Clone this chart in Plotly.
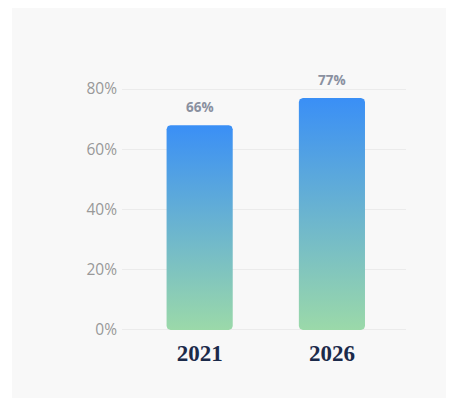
import numpy as np
import plotly.graph_objects as go

# ---- data ----
years = ["2021", "2026"]
values = [68, 77]           # bar heights as drawn (percent)
labels = ["66%", "77%"]     # printed value labels
y_ticks = [0, 20, 40, 60, 80]
y_tick_labels = ["0%", "20%", "40%", "60%", "80%"]

W, H = 458, 398
L, R, T, B = 122, 52, 86, 65
pw, ph = W - L - R, H - T - B
x_range = [-0.587, 1.56]
y_range = [-1, 81]
px_per_x = pw / (x_range[1] - x_range[0])
px_per_y = ph / (y_range[1] - y_range[0])

bar_w = 0.5
rad_px = 4
rx, ry = rad_px / px_per_x, rad_px / px_per_y

colorscale = [[0, "#9bd9a9"], [1, "#3a8ff6"]]


def rounded_rect(xc, top):
    x0, x1 = xc - bar_w / 2, xc + bar_w / 2
    y0, y1 = 0, top
    xs, ys = [], []
    corners = [
        (x1 - rx, y0 + ry, -np.pi / 2, 0),
        (x1 - rx, y1 - ry, 0, np.pi / 2),
        (x0 + rx, y1 - ry, np.pi / 2, np.pi),
        (x0 + rx, y0 + ry, np.pi, 1.5 * np.pi),
    ]
    for cx, cy, a0, a1 in corners:
        t = np.linspace(a0, a1, 8)
        xs.extend(cx + rx * np.cos(t))
        ys.extend(cy + ry * np.sin(t))
    xs.append(xs[0])
    ys.append(ys[0])
    return xs, ys


fig = go.Figure()
for i, v in enumerate(values):
    xs, ys = rounded_rect(i, v)
    fig.add_trace(go.Scatter(
        x=xs, y=ys, mode="lines", fill="toself",
        line=dict(width=0, color="rgba(0,0,0,0)"),
        fillgradient=dict(type="vertical", colorscale=colorscale, start=0, stop=v),
        hoverinfo="skip", showlegend=False,
    ))
    fig.add_annotation(
        x=i, y=v, text=labels[i], showarrow=False, yshift=18,
        font=dict(family="Open Sans", size=13.5, color="#8a90a0", weight="bold"),
    )

# card background (pixel box 12..446 x 8..398)
fig.add_shape(
    type="rect", xref="paper", yref="paper", layer="below",
    x0=(12 - L) / pw, x1=(446 - L) / pw,
    y0=-(B + 2) / ph, y1=(T + ph - 8) / ph,
    fillcolor="#f8f8f8", line=dict(width=0),
)

fig.update_layout(
    width=W, height=H,
    margin=dict(l=L, r=R, t=T, b=B),
    paper_bgcolor="white",
    plot_bgcolor="rgba(0,0,0,0)",
    xaxis=dict(
        range=x_range, tickvals=list(range(len(years))), ticktext=years,
        showgrid=False, zeroline=False, showline=False, ticks="",
        tickfont=dict(family="Liberation Serif", size=23, color="#1b2a4a", weight="bold"),
        ticklabelstandoff=4,
        fixedrange=True,
    ),
    yaxis=dict(
        range=y_range, tickvals=y_ticks, ticktext=y_tick_labels,
        showgrid=True, gridcolor="#ebebeb", gridwidth=1,
        zeroline=False, showline=False, ticks="",
        tickfont=dict(family="Open Sans", size=15.5, color="#999999"),
        ticklabelstandoff=4,
        fixedrange=True,
    ),
)

fig.write_html("out.html")
